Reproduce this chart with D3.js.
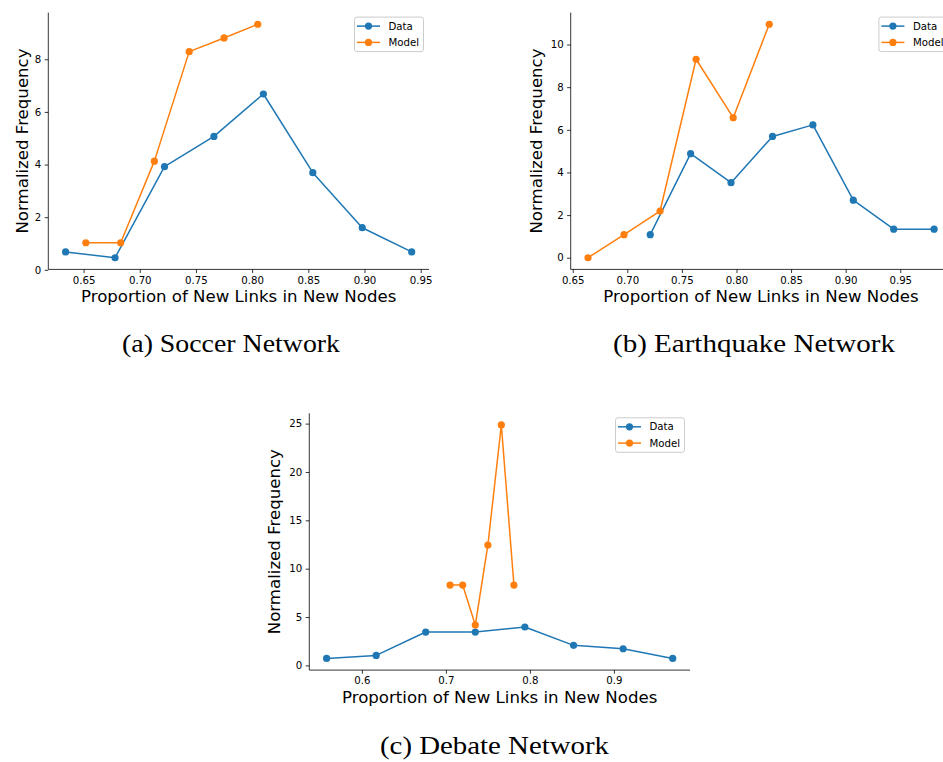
<!DOCTYPE html>
<html>
<head>
<meta charset="utf-8">
<script src="https://cdn.jsdelivr.net/npm/d3@7"></script>
<style>
  html, body { margin: 0; padding: 0; background: #fff; }
  svg { display: block; }
  .tick text { font-family: "DejaVu Sans", sans-serif; font-size: 10.2px; fill: #000; }
  .axis-label { font-family: "DejaVu Sans", sans-serif; font-size: 16.6px; fill: #000; }
  .legend text { font-family: "DejaVu Sans", sans-serif; font-size: 10.2px; fill: #000; }
  .caption { font-family: "Liberation Serif", "Times New Roman", serif; font-size: 26px; fill: #000; }
</style>
</head>
<body>
<svg id="fig" width="943" height="762"></svg>
<script>
// Soccer network
const soccerDataX  = [0.634, 0.678, 0.722, 0.766, 0.810, 0.854, 0.898, 0.942];
const soccerDataY  = [0.68, 0.46, 3.92, 5.07, 6.68, 3.69, 1.60, 0.68];
const soccerModelX = [0.652, 0.683, 0.713, 0.744, 0.775, 0.805];
const soccerModelY = [1.03, 1.03, 4.13, 8.29, 8.81, 9.33];
const soccerXTicks = [0.65, 0.70, 0.75, 0.80, 0.85, 0.90, 0.95];
const soccerYTicks = [0, 2, 4, 6, 8];

// Earthquake network
const quakeDataX  = [0.721, 0.758, 0.795, 0.833, 0.870, 0.907, 0.944, 0.981];
const quakeDataY  = [1.08, 4.88, 3.52, 5.69, 6.23, 2.70, 1.34, 1.34];
const quakeModelX = [0.664, 0.697, 0.730, 0.763, 0.797, 0.830];
const quakeModelY = [0, 1.08, 2.19, 9.31, 6.57, 10.95];
const quakeXTicks = [0.65, 0.70, 0.75, 0.80, 0.85, 0.90, 0.95];
const quakeYTicks = [0, 2, 4, 6, 8, 10];

// Debate network
const debateDataX  = [0.558, 0.617, 0.676, 0.735, 0.794, 0.852, 0.911, 0.970];
const debateDataY  = [0.72, 1.03, 3.45, 3.45, 3.97, 2.07, 1.72, 0.72];
const debateModelX = [0.705, 0.720, 0.735, 0.750, 0.766, 0.781];
const debateModelY = [8.31, 8.31, 4.17, 12.45, 24.86, 8.31];
const debateXTicks = [0.6, 0.7, 0.8, 0.9];
const debateYTicks = [0, 5, 10, 15, 20, 25];

const seriesNames = ["Data", "Model"];
const captions = ["(a) Soccer Network", "(b) Earthquake Network", "(c) Debate Network"];
const xLabel = "Proportion of New Links in New Nodes";
const yLabel = "Normalized Frequency";

const COLORS = { Data: "#1f77b4", Model: "#ff7f0e" };
const PLOT_W = 380.7, PLOT_H = 256.8;

const svg = d3.select("#fig");

// pad an extent by 5% on each side
function padded(values) {
  const [lo, hi] = d3.extent(values);
  const m = (hi - lo) * 0.05;
  return [lo - m, hi + m];
}

function zip(xs, ys) { return xs.map((x, i) => ({ x, y: ys[i] })); }

function drawPanel(cfg) {
  const g = svg.append("g").attr("transform", `translate(${cfg.left},${cfg.top})`);
  const series = [
    { name: "Data", pts: zip(cfg.dataX, cfg.dataY) },
    { name: "Model", pts: zip(cfg.modelX, cfg.modelY) }
  ];
  const allX = cfg.dataX.concat(cfg.modelX);
  const allY = cfg.dataY.concat(cfg.modelY);

  const x = d3.scaleLinear().domain(padded(allX)).range([0, PLOT_W]);
  const y = d3.scaleLinear().domain(padded(allY)).range([PLOT_H, 0]);

  const xAxis = d3.axisBottom(x).tickValues(cfg.xTicks)
    .tickFormat(d3.format(cfg.xFmt)).tickSize(3.6).tickPadding(3.4);
  const yAxis = d3.axisLeft(y).tickValues(cfg.yTicks)
    .tickFormat(d3.format("d")).tickSize(3.6).tickPadding(3.4);

  const gx = g.append("g").attr("transform", `translate(0,${PLOT_H})`).call(xAxis);
  const gy = g.append("g").call(yAxis);
  [gx, gy].forEach(a => {
    a.select(".domain").attr("stroke", "#000").attr("stroke-width", 0.8);
    a.selectAll(".tick line").attr("stroke", "#000").attr("stroke-width", 0.8);
    a.attr("font-family", null).attr("font-size", null);
  });
  // straight spines without the outer tick caps
  gx.select(".domain").attr("d", `M0,0H${PLOT_W}`);
  gy.select(".domain").attr("d", `M0,0V${PLOT_H}`);

  const line = d3.line().x(d => x(d.x)).y(d => y(d.y));
  series.forEach(s => {
    g.append("path").datum(s.pts)
      .attr("d", line).attr("fill", "none")
      .attr("stroke", COLORS[s.name]).attr("stroke-width", 1.5)
      .attr("stroke-linejoin", "round");
    g.append("g").selectAll("circle").data(s.pts).join("circle")
      .attr("cx", d => x(d.x)).attr("cy", d => y(d.y)).attr("r", 3.6)
      .attr("fill", COLORS[s.name]);
  });

  g.append("text").attr("class", "axis-label")
    .attr("x", PLOT_W / 2).attr("y", PLOT_H + 32.5)
    .attr("text-anchor", "middle").text(xLabel);
  g.append("text").attr("class", "axis-label")
    .attr("transform", `translate(${cfg.yLabelX},${PLOT_H / 2}) rotate(-90)`)
    .attr("text-anchor", "middle").text(yLabel);

  // legend in the upper right corner
  const lw = 69, lh = 34.5;
  const lg = g.append("g").attr("class", "legend")
    .attr("transform", `translate(${PLOT_W - 5.5 - lw + (cfg.legendShift || 0)},4.5)`);
  lg.append("rect").attr("width", lw).attr("height", lh).attr("rx", 2.5)
    .attr("fill", "#fff").attr("fill-opacity", 0.8)
    .attr("stroke", "#cccccc").attr("stroke-width", 1);
  seriesNames.forEach((name, i) => {
    const ry = 9 + i * 16.3;
    lg.append("line").attr("x1", 2.5).attr("x2", 25.5).attr("y1", ry).attr("y2", ry)
      .attr("stroke", COLORS[name]).attr("stroke-width", 1.5);
    lg.append("circle").attr("cx", 14).attr("cy", ry).attr("r", 3.6).attr("fill", COLORS[name]);
    lg.append("text").attr("x", 34).attr("y", ry).attr("dy", "0.36em").text(name);
  });

  svg.append("text").attr("class", "caption")
    .attr("x", cfg.capX).attr("y", cfg.capY).attr("text-anchor", "middle")
    .attr("textLength", cfg.capW).attr("lengthAdjust", "spacingAndGlyphs")
    .text(cfg.caption);
}

drawPanel({
  left: 48.3, top: 12.6,
  dataX: soccerDataX, dataY: soccerDataY, modelX: soccerModelX, modelY: soccerModelY,
  xTicks: soccerXTicks, yTicks: soccerYTicks, xFmt: ".2f",
  yLabelX: -20.3, caption: captions[0], capX: 231, capY: 351.5, capW: 218
});
drawPanel({
  left: 570.7, top: 12.6,
  dataX: quakeDataX, dataY: quakeDataY, modelX: quakeModelX, modelY: quakeModelY,
  xTicks: quakeXTicks, yTicks: quakeYTicks, xFmt: ".2f", legendShift: 2,
  yLabelX: -29, caption: captions[1], capX: 754, capY: 351.5, capW: 282
});
drawPanel({
  left: 309.3, top: 413.3,
  dataX: debateDataX, dataY: debateDataY, modelX: debateModelX, modelY: debateModelY,
  xTicks: debateXTicks, yTicks: debateYTicks, xFmt: ".1f",
  yLabelX: -29.1, caption: captions[2], capX: 494.5, capY: 753.5, capW: 229
});
</script>
</body>
</html>
